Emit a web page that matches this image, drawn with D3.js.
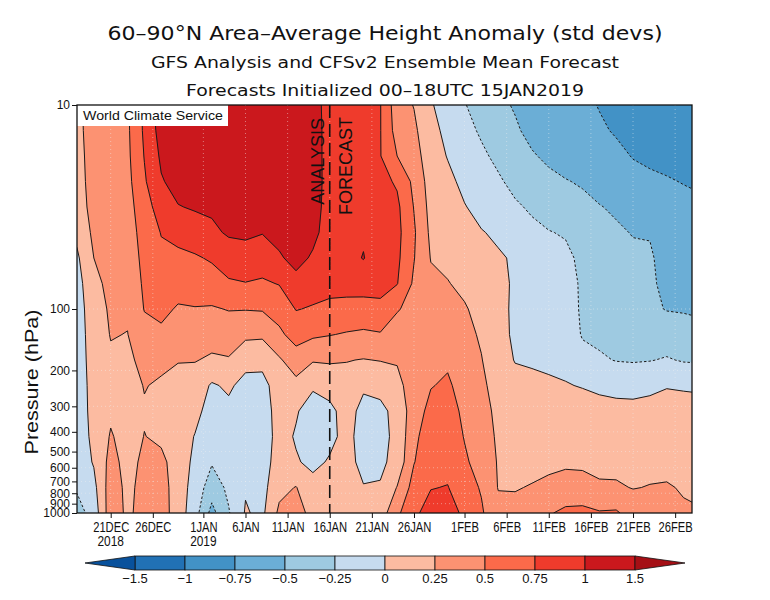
<!DOCTYPE html>
<html><head><meta charset="utf-8">
<script src="https://cdn.jsdelivr.net/npm/d3@7"></script>
<style>body{margin:0;background:#fff;} svg{display:block;}</style>
</head><body>
<svg id="chart" width="770" height="600"></svg>
<script>
// ---------------- DATA ----------------
// column dates (every 2 days)
const dates = ['2018-12-17','2018-12-19','2018-12-21','2018-12-23','2018-12-25','2018-12-27','2018-12-29','2018-12-31',
  '2019-01-02','2019-01-04','2019-01-06','2019-01-08','2019-01-10','2019-01-12','2019-01-14','2019-01-16','2019-01-18',
  '2019-01-20','2019-01-22','2019-01-24','2019-01-26','2019-01-28','2019-01-30','2019-02-01','2019-02-03','2019-02-05',
  '2019-02-07','2019-02-09','2019-02-11','2019-02-13','2019-02-15','2019-02-17','2019-02-19','2019-02-21','2019-02-23',
  '2019-02-25','2019-02-27','2019-03-01'];
// pressure levels (hPa), top to bottom
const levels = [10, 13.34, 17.78, 23.71, 31.62, 42.17, 56.23, 74.99, 100, 133.4, 177.8, 237.1, 316.2, 421.7, 562.3, 749.9, 1000];
// height anomaly (std devs): one list per date column, values from 10 hPa down to 1000 hPa
const anomaly = [
 [0.2,0.19,0.17,0.15,0.12,0.06,-0.04,-0.1,-0.12,-0.12,-0.12,-0.12,-0.12,-0.12,-0.15,-0.22,-0.35],
 [0.35,0.35,0.35,0.35,0.34,0.3,0.25,0.2,0.15,0.12,0.1,0.08,0.07,0.05,0.02,-0.07,-0.15],
 [0.42,0.42,0.41,0.4,0.38,0.36,0.33,0.3,0.28,0.26,0.22,0.18,0.21,0.27,0.33,0.38,0.4],
 [0.47,0.46,0.45,0.43,0.41,0.38,0.35,0.32,0.28,0.245,0.2,0.16,0.15,0.16,0.17,0.19,0.2],
 [0.8,0.79,0.76,0.72,0.64,0.6,0.57,0.54,0.51,0.42,0.32,0.26,0.23,0.255,0.3,0.33,0.35],
 [1.15,1.1,1.04,0.98,0.87,0.76,0.7,0.62,0.55,0.46,0.3,0.22,0.18,0.21,0.3,0.35,0.36],
 [1.25,1.22,1.15,1.08,0.99,0.82,0.7,0.58,0.48,0.36,0.26,0.18,0.14,0.12,0.15,0.13,0.13],
 [1.3,1.28,1.22,1.12,1.02,0.9,0.72,0.6,0.49,0.35,0.26,0.15,0.07,-0.01,-0.06,-0.1,-0.15],
 [1.3,1.3,1.25,1.15,1.04,0.95,0.78,0.63,0.48,0.33,0.22,-0.03,-0.1,-0.15,-0.23,-0.38,-0.58],
 [1.3,1.3,1.26,1.2,1.1,1.03,0.87,0.72,0.51,0.38,0.23,0.04,-0.06,-0.1,-0.14,-0.2,-0.27],
 [1.3,1.3,1.28,1.22,1.12,1.03,0.93,0.74,0.51,0.3,0.08,-0.08,-0.12,-0.12,-0.1,-0.02,0.02],
 [1.3,1.3,1.28,1.2,1.1,1.01,0.86,0.72,0.52,0.29,0.07,-0.08,-0.12,-0.12,-0.1,-0.08,-0.05],
 [1.3,1.3,1.28,1.22,1.14,1.05,0.98,0.76,0.6,0.45,0.22,0.12,0.1,0.08,0.1,0.18,0.3],
 [1.3,1.3,1.3,1.26,1.2,1.12,1.05,0.95,0.76,0.6,0.38,0.18,0.02,-0.02,0.02,0.26,0.38],
 [1.15,1.15,1.14,1.12,1.08,1.04,0.98,0.85,0.73,0.54,0.27,0.03,-0.1,-0.12,-0.05,0.07,0.15],
 [0.85,0.87,0.88,0.9,0.92,0.93,0.92,0.82,0.7,0.51,0.28,0.08,-0.05,-0.05,0.02,0.08,0.12],
 [0.88,0.88,0.9,0.92,0.94,0.95,0.93,0.83,0.68,0.48,0.26,0.15,0.08,0.06,0.07,0.1,0.14],
 [0.88,0.89,0.9,0.93,0.95,0.97,1.01,0.85,0.66,0.46,0.24,0.03,-0.06,-0.08,-0.06,0.01,0.08],
 [0.76,0.76,0.76,0.82,0.86,0.88,0.87,0.82,0.7,0.48,0.26,0.05,-0.04,-0.06,-0.05,0.02,0.12],
 [0.36,0.4,0.5,0.72,0.8,0.82,0.8,0.76,0.52,0.38,0.27,0.18,0.05,0.05,0.08,0.26,0.45],
 [0.24,0.3,0.36,0.44,0.49,0.53,0.51,0.46,0.42,0.38,0.36,0.37,0.4,0.45,0.49,0.6,0.7],
 [0.02,0.06,0.1,0.14,0.17,0.2,0.24,0.3,0.36,0.41,0.45,0.49,0.56,0.62,0.67,0.74,0.85],
 [-0.1,-0.05,-0.01,0.05,0.1,0.15,0.2,0.26,0.33,0.4,0.47,0.53,0.58,0.62,0.67,0.76,0.9],
 [-0.24,-0.18,-0.12,-0.05,0.01,0.06,0.13,0.2,0.27,0.32,0.37,0.42,0.46,0.49,0.53,0.6,0.68],
 [-0.33,-0.28,-0.21,-0.13,-0.06,0.01,0.07,0.13,0.18,0.22,0.26,0.3,0.34,0.38,0.42,0.48,0.53],
 [-0.45,-0.4,-0.3,-0.22,-0.13,-0.03,0.02,0.04,0.05,0.06,0.1,0.15,0.19,0.21,0.23,0.24,0.32],
 [-0.52,-0.47,-0.4,-0.31,-0.22,-0.13,-0.02,-0.02,-0.03,-0.03,-0.01,0.07,0.12,0.16,0.2,0.24,0.3],
 [-0.6,-0.56,-0.48,-0.38,-0.28,-0.2,-0.14,-0.1,-0.08,-0.06,-0.02,0.04,0.1,0.15,0.2,0.26,0.35],
 [-0.63,-0.6,-0.54,-0.45,-0.35,-0.24,-0.18,-0.14,-0.12,-0.09,-0.04,0.03,0.1,0.15,0.2,0.3,0.48],
 [-0.66,-0.63,-0.58,-0.49,-0.4,-0.27,-0.2,-0.17,-0.15,-0.1,-0.05,0.01,0.08,0.14,0.21,0.35,0.55],
 [-0.7,-0.67,-0.6,-0.52,-0.45,-0.36,-0.3,-0.28,-0.28,-0.27,-0.17,-0.01,0.08,0.14,0.2,0.35,0.56],
 [-0.76,-0.72,-0.66,-0.58,-0.49,-0.43,-0.38,-0.35,-0.33,-0.3,-0.22,-0.04,0.07,0.13,0.19,0.28,0.52],
 [-0.82,-0.77,-0.7,-0.63,-0.53,-0.47,-0.43,-0.4,-0.37,-0.33,-0.26,-0.06,0.06,0.12,0.18,0.28,0.53],
 [-0.86,-0.82,-0.76,-0.68,-0.58,-0.51,-0.46,-0.44,-0.41,-0.36,-0.27,-0.07,0.06,0.12,0.18,0.24,0.4],
 [-0.92,-0.87,-0.78,-0.72,-0.62,-0.51,-0.48,-0.48,-0.46,-0.38,-0.26,-0.04,0.06,0.12,0.18,0.26,0.32],
 [-0.96,-0.92,-0.82,-0.73,-0.66,-0.6,-0.56,-0.53,-0.51,-0.38,-0.23,-0.01,0.07,0.12,0.18,0.27,0.3],
 [-0.97,-0.95,-0.87,-0.76,-0.68,-0.62,-0.58,-0.55,-0.52,-0.4,-0.27,-0.02,0.07,0.12,0.18,0.23,0.28],
 [-0.97,-0.96,-0.9,-0.79,-0.7,-0.64,-0.6,-0.57,-0.54,-0.42,-0.28,-0.03,0.07,0.12,0.18,0.22,0.26]
];
// contour levels and fill colours (band below first level, then above each level)
const thresholds = [-1.5, -1, -0.75, -0.5, -0.25, 0, 0.25, 0.5, 0.75, 1, 1.5];
const thresholdLabels = ['\u22121.5','\u22121','\u22120.75','\u22120.5','\u22120.25','0','0.25','0.5','0.75','1','1.5'];
const bandColors = ['#08519c','#2171b5','#4292c6','#6baed6','#9ecae1','#c6dbef','#fcbba1','#fc9272','#fb6a4a','#ef3b2c','#cb181d','#a50f15'];
// axis ticks
const dateTicks = ['2018-12-21','2018-12-26','2019-01-01','2019-01-06','2019-01-11','2019-01-16','2019-01-21','2019-01-26',
  '2019-02-01','2019-02-06','2019-02-11','2019-02-16','2019-02-21','2019-02-26'];
const dateTickLabels = ['21DEC','26DEC','1JAN','6JAN','11JAN','16JAN','21JAN','26JAN','1FEB','6FEB','11FEB','16FEB','21FEB','26FEB'];
const yearTicks = ['2018-12-21','2019-01-01'];
const yearLabels = ['2018','2019'];
const pressureTicks = [10,100,200,300,400,500,600,700,800,900,1000];
const initDate = '2019-01-16';
const titles = ['60\u201390\u00b0N Area\u2013Average Height Anomaly (std devs)',
  'GFS Analysis and CFSv2 Ensemble Mean Forecast',
  'Forecasts Initialized 00\u201318UTC 15JAN2019'];

// ---------------- CHART ----------------
const svg = d3.select('#chart');
const L = 77, R = 692, T = 105, B = 513;
const parse = d3.utcParse('%Y-%m-%d');
const x = d3.scaleUtc().domain([parse('2018-12-17'), parse('2019-02-28')]).range([L, R]);
const y = d3.scaleLog().domain([10, 1000]).range([T, B]);
const lfont = "'Liberation Sans', Arial, sans-serif";
const tfont = "'DejaVu Sans', sans-serif";

svg.append('rect').attr('width',770).attr('height',600).attr('fill','#fff');

// condense a text element horizontally by a factor
function condense(sel, f) {
  sel.each(function(){ const w = this.getComputedTextLength();
    d3.select(this).attr('textLength', w*f).attr('lengthAdjust','spacingAndGlyphs'); });
}

// titles
const titleSpecs = [{y:40, size:20, len:555}, {y:68, size:16.5, len:468}, {y:96, size:16.5, len:398}];
titleSpecs.forEach((s,i)=>{
  svg.append('text').attr('x',385).attr('y',s.y).attr('text-anchor','middle')
    .attr('font-family',tfont).attr('font-size',s.size).attr('fill','#111')
    .attr('textLength',s.len).attr('lengthAdjust','spacingAndGlyphs').text(titles[i]);
});

// clip
svg.append('defs').append('clipPath').attr('id','plotclip')
  .append('rect').attr('x',L).attr('y',T).attr('width',R-L).attr('height',B-T);

const nx = dates.length, ny = levels.length;
const grid = new Array(nx*ny);
for (let j=0;j<ny;j++) for (let i=0;i<nx;i++) grid[j*nx+i] = anomaly[i][j];

const xi = d3.scaleLinear().domain([0,nx-1]).range([x(parse(dates[0])), x(parse(dates[nx-1]))]);
const yi = d3.scaleLinear().domain([0,ny-1]).range([y(levels[0]), y(levels[ny-1])]);
const proj = d3.geoTransform({point(px,py){ this.stream.point(xi(px-0.5), yi(py-0.5)); }});
const path = d3.geoPath(proj);
const contours = d3.contours().size([nx,ny]).thresholds(thresholds)(grid);

const plot = svg.append('g').attr('clip-path','url(#plotclip)');
plot.append('rect').attr('x',L).attr('y',T).attr('width',R-L).attr('height',B-T).attr('fill',bandColors[0]);
plot.selectAll('path.fill').data(contours).join('path').attr('class','fill')
  .attr('d',path).attr('fill',(d,i)=>bandColors[i+1]).attr('stroke',(d,i)=>bandColors[i+1]).attr('stroke-width',0.5);

// faint dotted grid
const gridG = plot.append('g');
dateTicks.forEach(d=>{
  gridG.append('line').attr('x1',x(parse(d))).attr('x2',x(parse(d))).attr('y1',T).attr('y2',B)
    .attr('stroke','#f2f2f2').attr('stroke-opacity',0.45).attr('stroke-dasharray','1,3');
});
pressureTicks.slice(1,-1).forEach(p=>{
  gridG.append('line').attr('x1',L).attr('x2',R).attr('y1',y(p)).attr('y2',y(p))
    .attr('stroke','#f2f2f2').attr('stroke-opacity',0.45).attr('stroke-dasharray','1,3');
});

// contour lines
plot.selectAll('path.line').data(contours).join('path').attr('class','line')
  .attr('d',path).attr('fill','none').attr('stroke','#1a1a1a').attr('stroke-width',1)
  .attr('stroke-dasharray',d=>d.value<0?'2.5,2':null);

// analysis/forecast divider
const xd = x(parse(initDate));
svg.append('line').attr('x1',xd).attr('x2',xd).attr('y1',T).attr('y2',B)
  .attr('stroke','#111').attr('stroke-width',1.6).attr('stroke-dasharray','13,6');
svg.append('text').attr('transform',`translate(${xd-6},118) rotate(-90)`).attr('text-anchor','end')
  .attr('font-family',lfont).attr('font-size',18).attr('fill','#111').text('ANALYSIS');
svg.append('text').attr('transform',`translate(${xd+22},117) rotate(-90)`).attr('text-anchor','end')
  .attr('font-family',lfont).attr('font-size',18).attr('fill','#111').text('FORECAST');

// label box
svg.append('rect').attr('x',L).attr('y',T).attr('width',151).attr('height',21).attr('fill','#fff');
svg.append('text').attr('x',L+6).attr('y',T+15).attr('font-family',lfont).attr('font-size',13)
  .attr('fill','#111').attr('textLength',140).attr('lengthAdjust','spacingAndGlyphs').text('World Climate Service');

// frame
svg.append('rect').attr('x',L).attr('y',T).attr('width',R-L).attr('height',B-T)
  .attr('fill','none').attr('stroke','#111').attr('stroke-width',1.3);

// y axis
const yAxis = svg.append('g').attr('transform',`translate(${L},0)`)
  .call(d3.axisLeft(y).tickValues(pressureTicks).tickFormat(d3.format('d')).tickSize(5).tickSizeOuter(0));
yAxis.select('.domain').remove();
yAxis.selectAll('text').attr('font-family',lfont).attr('font-size',12).attr('fill','#111').attr('x',-7);
yAxis.selectAll('line').attr('stroke','#111');
svg.append('text').attr('transform','translate(38,382) rotate(-90)').attr('text-anchor','middle')
  .attr('font-family',lfont).attr('font-size',18.5).attr('fill','#111')
  .attr('textLength',145).attr('lengthAdjust','spacingAndGlyphs').text('Pressure (hPa)');

// x axis
const xAxis = svg.append('g').attr('transform',`translate(0,${B})`)
  .call(d3.axisBottom(x).tickValues(dateTicks.map(parse)).tickFormat((d,i)=>dateTickLabels[i]).tickSize(5).tickSizeOuter(0));
xAxis.select('.domain').remove();
xAxis.selectAll('text').attr('font-family',lfont).attr('font-size',14).attr('fill','#111').attr('dy',null).attr('y',19);
condense(xAxis.selectAll('text'), 0.8);
xAxis.selectAll('line').attr('stroke','#111');
yearTicks.forEach((d,i)=>{
  const t = svg.append('text').attr('x',x(parse(d))).attr('y',B+33).attr('text-anchor','middle')
    .attr('font-family',lfont).attr('font-size',14).attr('fill','#111').text(yearLabels[i]);
  condense(t, 0.85);
});

// colour bar
const cb = svg.append('g');
const cbx = d3.scaleLinear().domain([0, thresholds.length-1]).range([135, 635]);
const cbTop = 556, cbBot = 570, cbMid = (cbTop+cbBot)/2;
for (let i=0;i<thresholds.length-1;i++) {
  cb.append('rect').attr('x',cbx(i)).attr('y',cbTop).attr('width',cbx(i+1)-cbx(i)).attr('height',cbBot-cbTop)
    .attr('fill',bandColors[i+1]).attr('stroke','#111').attr('stroke-width',0.8);
}
cb.append('path').attr('d',`M${cbx(0)},${cbTop}L${cbx(0)-50},${cbMid}L${cbx(0)},${cbBot}Z`)
  .attr('fill',bandColors[0]).attr('stroke','#111').attr('stroke-width',0.8);
const last = thresholds.length-1;
cb.append('path').attr('d',`M${cbx(last)},${cbTop}L${cbx(last)+50},${cbMid}L${cbx(last)},${cbBot}Z`)
  .attr('fill',bandColors[bandColors.length-1]).attr('stroke','#111').attr('stroke-width',0.8);
thresholds.forEach((t,i)=>{
  cb.append('text').attr('x',cbx(i)).attr('y',cbBot+13).attr('text-anchor','middle')
    .attr('font-family',lfont).attr('font-size',13).attr('fill','#111').text(thresholdLabels[i]);
});
</script>
</body></html>
